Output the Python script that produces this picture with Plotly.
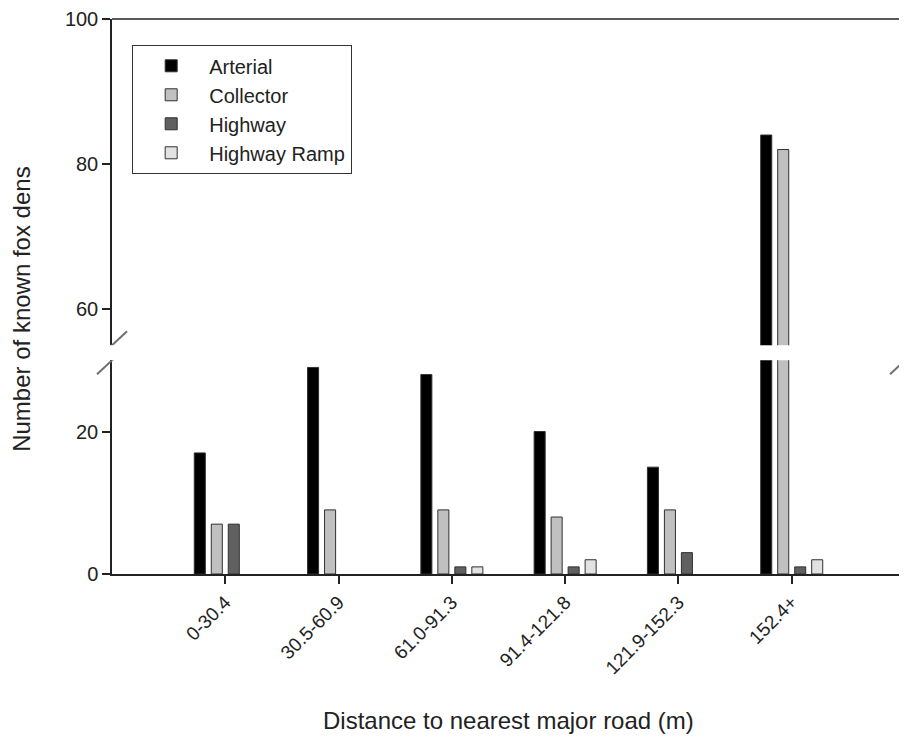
import plotly.graph_objects as go

categories = ["0-30.4", "30.5-60.9", "61.0-91.3", "91.4-121.8", "121.9-152.3", "152.4+"]
arterial = [17, 29, 28, 20, 15, 84]
collector = [7, 9, 9, 8, 9, 82]
highway = [7, 0, 1, 1, 3, 1]
highway_ramp = [0, 0, 1, 2, 0, 2]

series = [
    ("Arterial", arterial, "#000000"),
    ("Collector", collector, "#c0c0c0"),
    ("Highway", highway, "#606060"),
    ("Highway Ramp", highway_ramp, "#e2e2e2"),
]

FONT = "Liberation Sans, Arial, sans-serif"
AXC = "#222222"


def nz(vals):
    # zero counts draw no bar at all
    return [v if v > 0 else None for v in vals]


fig = go.Figure()
for name, vals, col in series:
    fig.add_trace(go.Bar(x=categories, y=nz(vals), name=name, xaxis="x", yaxis="y",
                         marker=dict(color=col, line=dict(color="#303030", width=1)),
                         showlegend=True))
for name, vals, col in series:
    fig.add_trace(go.Bar(x=categories, y=nz(vals), name=name, xaxis="x", yaxis="y2",
                         marker=dict(color=col, line=dict(color="#303030", width=1)),
                         showlegend=False))

# page has an 8px body margin; compensate so the plot lands where the reference has it
fig.update_layout(
    width=899, height=733,
    margin=dict(l=104, r=2, t=11, b=167, autoexpand=False),
    paper_bgcolor="white", plot_bgcolor="white",
    barmode="group", bargap=0.4, bargroupgap=0.35,
    font=dict(family=FONT, size=20, color=AXC),
    xaxis=dict(
        type="category", range=[-1, 6], anchor="y",
        showline=True, linecolor=AXC, linewidth=1.5,
        ticks="outside", ticklen=8, tickcolor=AXC, tickwidth=1.5,
        tickangle=-45, tickfont=dict(size=19, family=FONT),
        showgrid=False, zeroline=False, automargin=False,
    ),
    yaxis=dict(
        domain=[0, 0.385], range=[0, 30], tick0=0, dtick=20, anchor="x",
        showline=True, mirror=True, linecolor=AXC, linewidth=1.5,
        ticks="outside", ticklen=8, tickcolor=AXC, tickwidth=1.5,
        showgrid=False, zeroline=False, tickfont=dict(size=20, family=FONT),
        automargin=False,
    ),
    yaxis2=dict(
        domain=[0.412, 1], range=[55, 100], tick0=0, dtick=20, anchor="x",
        showline=True, mirror=True, linecolor=AXC, linewidth=1.5,
        ticks="outside", ticklen=8, tickcolor=AXC, tickwidth=1.5,
        showgrid=False, zeroline=False, tickfont=dict(size=20, family=FONT),
        automargin=False,
    ),
    legend=dict(
        x=0.0252, y=0.953, xanchor="left", yanchor="top",
        bgcolor="white", bordercolor="#333333", borderwidth=1.2,
        font=dict(size=20, family=FONT, color=AXC),
        tracegroupgap=0, itemwidth=66,
    ),
    annotations=[
        dict(text="Number of known fox dens", xref="paper", yref="paper",
             x=0, xshift=-90, y=0.476, xanchor="center", yanchor="middle", textangle=-90,
             showarrow=False, font=dict(size=24, family=FONT, color=AXC)),
        dict(text="Distance to nearest major road (m)", xref="paper", yref="paper",
             x=0.5, y=0, yshift=-146, xanchor="center", yanchor="middle",
             showarrow=False, font=dict(size=24, family=FONT, color=AXC)),
    ],
)

shapes = [
    dict(type="line", xref="paper", yref="paper", x0=0, x1=1, y0=1, y1=1,
         line=dict(color=AXC, width=1.5)),
]
for xa in (0, 1):
    for yr, ya in (("y2", 55), ("y", 30)):
        shapes.append(dict(type="line", xref="paper", yref=yr,
                           xsizemode="pixel", xanchor=xa, ysizemode="pixel", yanchor=ya,
                           x0=-15, x1=15, y0=-14, y1=14,
                           line=dict(color="#707070", width=2)))
fig.update_layout(shapes=shapes)

fig.write_html("out.html")
